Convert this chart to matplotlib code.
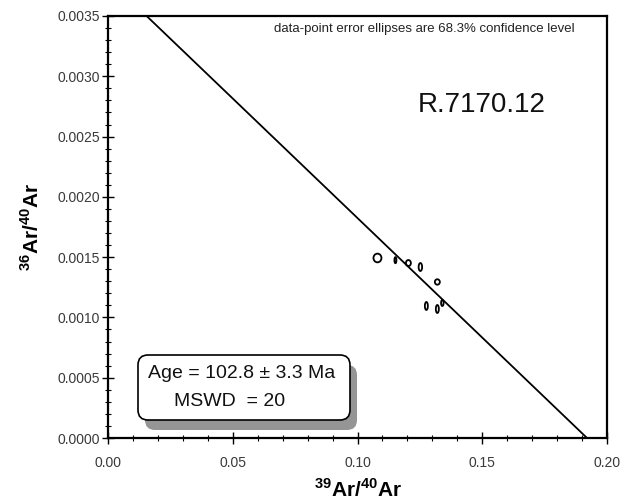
import numpy as np
import matplotlib
matplotlib.use('Agg')
import matplotlib.pyplot as plt
from matplotlib.patches import Ellipse, FancyBboxPatch
from matplotlib.ticker import MultipleLocator, FormatStrFormatter

plt.rcParams['font.family'] = ['Liberation Sans', 'DejaVu Sans']
plt.rcParams['mathtext.fontset'] = 'custom'
plt.rcParams['mathtext.rm'] = 'Liberation Sans'
plt.rcParams['mathtext.bf'] = 'Liberation Sans:bold'

# data-point error ellipses (39Ar/40Ar, 36Ar/40Ar, full width, full height)
x39 = [0.1080, 0.1152, 0.1204, 0.1252, 0.1320, 0.1276, 0.1320, 0.1340]
y36 = [0.001493, 0.001475, 0.001451, 0.001418, 0.001294, 0.001095, 0.001070, 0.001120]
ex = [0.0032, 0.0008, 0.0020, 0.0014, 0.0020, 0.0012, 0.0012, 0.0010]
ey = [0.000072, 0.000050, 0.000050, 0.000066, 0.000045, 0.000066, 0.000066, 0.000050]

# isochron fit
y_int = 0.003807
x_int = 0.192

fig = plt.figure(figsize=(6.31, 5.03), dpi=100)
ax = fig.add_axes([108/631, 65/503, 499/631, 422/503])

xx = np.array([0.0, 0.2])
ax.plot(xx, y_int * (1 - xx / x_int), color='black', lw=1.3)

for xi, yi, wi, hi in zip(x39, y36, ex, ey):
    ax.add_patch(Ellipse((xi, yi), wi, hi, facecolor='none',
                         edgecolor='black', lw=1.3))

ax.set_xlim(0, 0.2)
ax.set_ylim(0, 0.0035)
ax.xaxis.set_major_locator(MultipleLocator(0.05))
ax.xaxis.set_minor_locator(MultipleLocator(0.01))
ax.yaxis.set_major_locator(MultipleLocator(0.0005))
ax.yaxis.set_minor_locator(MultipleLocator(0.0001))
ax.xaxis.set_major_formatter(FormatStrFormatter('%.2f'))
ax.yaxis.set_major_formatter(FormatStrFormatter('%.4f'))
ax.tick_params(which='major', direction='inout', length=8, width=1,
               labelsize=10, labelcolor='#3a3a3a')
ax.tick_params(axis='x', which='major', pad=9)
ax.tick_params(axis='y', which='major', pad=2)
ax.tick_params(which='minor', direction='inout', length=4, width=0.8)
for s in ax.spines.values():
    s.set_linewidth(1.6)

ax.set_xlabel(r'$^{\mathbf{39}}\mathbf{Ar/}^{\mathbf{40}}\mathbf{Ar}$', fontsize=15, labelpad=6)
ax.set_ylabel(r'$^{\mathbf{36}}\mathbf{Ar/}^{\mathbf{40}}\mathbf{Ar}$', fontsize=15, labelpad=10)

ax.text(0.634, 0.969, 'data-point error ellipses are 68.3% confidence level',
        transform=ax.transAxes, ha='center', va='center', fontsize=9.5, color='#222222')
ax.text(0.748, 0.789, 'R.7170.12', transform=ax.transAxes, ha='center',
        va='center', fontsize=20, color='#111111')

# result box with shadow
tr = fig.dpi_scale_trans
shadow = FancyBboxPatch((1.45, 0.73), 2.12, 0.65,
                        boxstyle='round,pad=0,rounding_size=0.1',
                        transform=tr, facecolor='#959595', edgecolor='none', zorder=5)
box = FancyBboxPatch((1.38, 0.83), 2.12, 0.65,
                     boxstyle='round,pad=0,rounding_size=0.1',
                     transform=tr, facecolor='white', edgecolor='black', lw=1.2, zorder=6)
fig.patches.extend([shadow, box])
fig.text(2.42 / 6.31, 1.29 / 5.03, 'Age = 102.8 \u00b1 3.3 Ma', ha='center', va='center',
         fontsize=14, color='#111111', zorder=7)
fig.text(2.30 / 6.31, 1.01 / 5.03, 'MSWD  = 20', ha='center', va='center',
         fontsize=14, color='#111111', zorder=7)

plt.savefig('out.png', dpi=100)
plt.close()
